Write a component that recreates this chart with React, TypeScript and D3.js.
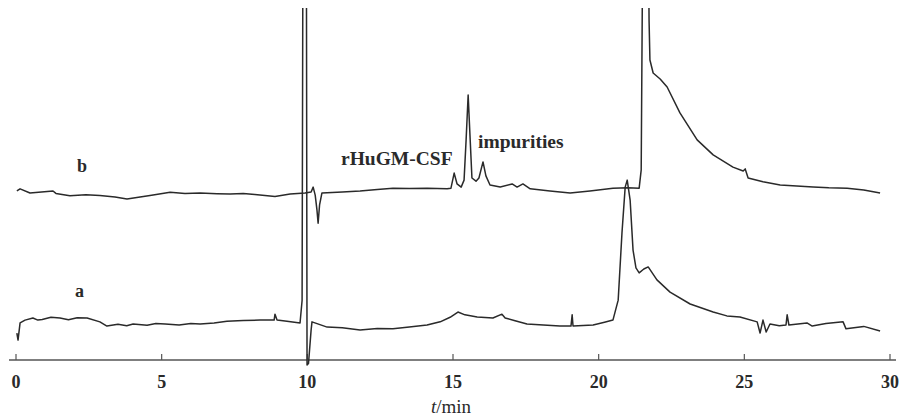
import React from 'react';
import { scaleLinear, line } from 'd3';

// retention times (min) and detector signal (arbitrary units) for trace a
const timeA = [0.03, 0.07, 0.14, 0.31, 0.58, 0.75, 0.9, 1.2, 1.51, 1.8, 2.1, 2.44, 2.88, 3.12, 3.5, 3.8, 4.02, 4.5, 4.8, 5.12, 5.6, 6.0, 6.32, 6.8, 7.24, 7.8, 8.38, 8.86, 8.89, 8.96, 9.3, 9.75, 9.82, 9.86, 9.96, 9.99, 10.04, 10.13, 10.16, 10.68, 11.2, 11.81, 12.4, 12.94, 13.5, 14.11, 14.56, 14.9, 15.17, 15.41, 15.83, 16.37, 16.68, 16.79, 17.1, 17.54, 18.1, 18.67, 19.05, 19.09, 19.12, 19.81, 20.2, 20.49, 20.67, 20.8, 20.91, 20.98, 21.08, 21.18, 21.28, 21.39, 21.55, 21.7, 22.0, 22.45, 23.14, 23.93, 24.4, 24.85, 25.44, 25.54, 25.64, 25.75, 25.88, 26.2, 26.43, 26.47, 26.53, 27.15, 27.33, 27.8, 28.39, 28.49, 29.1, 29.66];
const valueA = [7.7, 5.7, 10.6, 11.4, 12, 11.4, 11.6, 12.2, 12, 11.5, 12.1, 12, 10.9, 9.7, 10.2, 9.8, 10.3, 9.9, 10.4, 10.3, 10, 10.4, 10.3, 10.6, 11.1, 11.3, 11.4, 11.4, 13.1, 11.4, 11.1, 10.6, 17, 160, 160, -1.4, -1, 8.6, 10.9, 9.4, 9.2, 8.6, 9, 8.9, 9.4, 10, 10.9, 12.2, 13.7, 12.9, 12.3, 12, 13.1, 12, 11.3, 10.3, 10, 9.7, 9.7, 12.9, 9.7, 10, 10.8, 11.4, 17.1, 36.3, 49.4, 51.4, 45.7, 31.4, 26.3, 24.9, 26, 26.6, 22.9, 19.4, 16, 13.7, 12.6, 12.3, 10.9, 7.7, 11.4, 8, 10.3, 9.8, 10, 12.9, 10, 10.6, 9.7, 10.4, 10.9, 8.9, 9.6, 8.3];

// retention times (min) and detector signal for trace b
const timeB = [0.03, 0.14, 0.48, 1.27, 1.37, 1.85, 2.4, 2.88, 3.4, 3.81, 4.26, 4.6, 5.29, 5.8, 6.32, 6.9, 7.35, 7.8, 8.2, 8.89, 9.41, 9.92, 10.13, 10.2, 10.27, 10.33, 10.37, 10.42, 10.5, 11.2, 11.81, 12.4, 12.94, 13.5, 14.11, 14.8, 14.93, 15.04, 15.14, 15.28, 15.38, 15.45, 15.52, 15.59, 15.65, 15.79, 15.89, 16.03, 16.13, 16.27, 16.62, 17.03, 17.2, 17.4, 17.65, 18.33, 19.02, 19.7, 20.49, 21.0, 21.39, 21.46, 21.52, 21.7, 21.73, 21.76, 21.87, 22.11, 22.35, 22.79, 23.38, 23.93, 24.61, 24.96, 25.03, 25.13, 25.64, 26.23, 26.8, 27.36, 27.9, 28.53, 29.1, 29.66];
const valueB = [48.3, 48.9, 47.7, 48.3, 47.6, 46.9, 47.2, 47, 46.6, 46, 46.6, 47, 47.9, 47.6, 47.7, 47.5, 47.4, 47.6, 47.3, 46.7, 47.4, 47.7, 48, 49.4, 47.1, 42.9, 39.1, 44.3, 47.7, 48, 48.3, 48.7, 49.1, 49, 49.1, 48.9, 49.1, 53.4, 50.3, 49.4, 51.4, 62.9, 75.7, 62.9, 52, 51.1, 52, 56.6, 52.6, 50, 49.4, 50.3, 49.4, 50.3, 48.9, 48.3, 47.7, 48.3, 49.1, 49.2, 49.1, 54.3, 130, 130, 97, 85.7, 82, 80.3, 78, 70.6, 62.9, 58.6, 55.1, 54, 54.6, 52, 50.9, 50, 49.7, 49.4, 49.2, 49.1, 48.6, 47.7];

const xTicks = [0, 5, 10, 15, 20, 25, 30];

const width = 904;
const height = 420;

function Chromatogram() {
  const x = scaleLinear().domain([0, 30]).range([16, 890]);
  const y = scaleLinear().domain([0, 100]).range([360, 10]);
  const axisY = 360;

  const pathA = line<number>().x((d) => x(d)).y((d, i) => y(valueA[i]))(timeA) || '';
  const pathB = line<number>().x((d) => x(d)).y((d, i) => y(valueB[i]))(timeB) || '';

  const ink = '#2a2a2a';
  const font = '"Liberation Serif", "Times New Roman", serif';

  return (
    <svg width={width} height={height} style={{ position: 'absolute', left: 0, top: 0, background: '#fff' }}>
      <defs>
        <clipPath id="plot-clip">
          <rect x={0} y={8} width={width} height={358} />
        </clipPath>
      </defs>

      {/* x axis */}
      <line x1={9} x2={896} y1={axisY} y2={axisY} stroke="#555" strokeWidth={1.3} />
      {xTicks.map((t) => (
        <g key={t}>
          <line x1={x(t)} x2={x(t)} y1={axisY} y2={axisY - 6} stroke="#555" strokeWidth={1.2} />
          <text x={x(t)} y={388} textAnchor="middle" fontFamily={font} fontWeight="bold" fontSize={18} fill={ink}>
            {t}
          </text>
        </g>
      ))}
      <text x={451} y={413} textAnchor="middle" fontFamily={font} fontSize={19} fill={ink}>
        <tspan fontStyle="italic">t</tspan>
        <tspan>/min</tspan>
      </text>

      {/* traces */}
      <g clipPath="url(#plot-clip)" fill="none" stroke={ink} strokeWidth={1.5} strokeLinejoin="round">
        <path d={pathA} />
        <path d={pathB} />
      </g>

      {/* labels */}
      <text x={77} y={172} fontFamily={font} fontWeight="bold" fontSize={18} fill={ink}>b</text>
      <text x={75} y={297} fontFamily={font} fontWeight="bold" fontSize={18} fill={ink}>a</text>
      <text x={341} y={165} fontFamily={font} fontWeight="bold" fontSize={19.5} fill={ink}>rHuGM-CSF</text>
      <text x={478} y={148} fontFamily={font} fontWeight="bold" fontSize={19.5} fill={ink}>impurities</text>
    </svg>
  );
}

export default function App() {
  return <Chromatogram />;
}
